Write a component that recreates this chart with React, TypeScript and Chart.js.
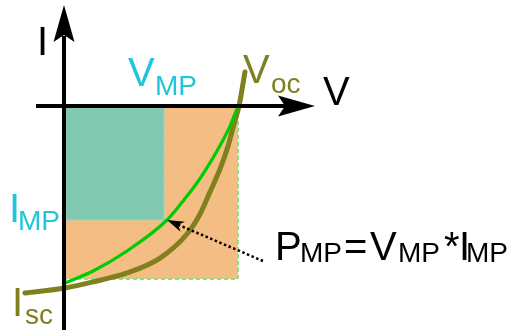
import React, { useEffect, useRef } from "react";
import { Chart, registerables } from "chart.js";

Chart.register(...registerables);

// Normalised units: V / V_oc along x, I / |I_rect| along y (downward = negative)
const ivCurveV = [-0.224, 0.006, 0.167, 0.362, 0.552, 0.707, 0.782, 0.839, 0.897, 0.943, 0.977, 1.006, 1.04];
const ivCurveI = [-1.081, -1.052, -1.017, -0.965, -0.879, -0.74, -0.624, -0.497, -0.364, -0.231, -0.104, 0, 0.197];

const mpCurveV = [0.006, 0.167, 0.362, 0.592, 0.684, 0.764, 0.839, 0.908, 0.954, 1.0];
const mpCurveI = [-1.023, -0.954, -0.838, -0.659, -0.549, -0.445, -0.329, -0.208, -0.116, 0];

const vMP = 0.575;
const iMP = -0.659;
const vOC = 1.0;
const iRect = -1.0;

const X_MIN = -0.3678;
const X_MAX = 2.5575;
const Y_MIN = -1.2948;
const Y_MAX = 0.6127;

const TEAL_TEXT = "#1fc6da";
const OLIVE = "#808020";
const GREEN = "#00cc00";
const FONT = '"Liberation Sans", Arial, sans-serif';

function rectPts(x0: number, y0: number, x1: number, y1: number) {
  return [
    { x: x0, y: y0 },
    { x: x1, y: y0 },
    { x: x1, y: y1 },
    { x: x0, y: y1 },
    { x: x0, y: y0 },
  ];
}

function drawLeft(ctx: CanvasRenderingContext2D, text: string, left: number, baseline: number, size: number, color: string) {
  ctx.font = `${size}px ${FONT}`;
  ctx.fillStyle = color;
  ctx.textAlign = "left";
  ctx.textBaseline = "alphabetic";
  const m = ctx.measureText(text);
  ctx.fillText(text, left + m.actualBoundingBoxLeft, baseline);
}

function arrowHead(ctx: CanvasRenderingContext2D, tx: number, ty: number, ang: number, len: number, half: number, notch: number) {
  ctx.save();
  ctx.translate(tx, ty);
  ctx.rotate(ang);
  ctx.beginPath();
  ctx.moveTo(0, 0);
  ctx.lineTo(-len, -half);
  ctx.lineTo(-notch, 0);
  ctx.lineTo(-len, half);
  ctx.closePath();
  ctx.fill();
  ctx.restore();
}

const overlayPlugin = {
  id: "overlay",
  afterDatasetsDraw(chart: any) {
    const ctx: CanvasRenderingContext2D = chart.ctx;
    const xs = chart.scales.x;
    const ys = chart.scales.y;
    const ox = xs.getPixelForValue(0);
    const oy = ys.getPixelForValue(0);
    ctx.save();
    ctx.fillStyle = "#000";
    ctx.strokeStyle = "#000";
    ctx.lineWidth = 4;
    ctx.setLineDash([]);
    // vertical axis
    ctx.beginPath();
    ctx.moveTo(ox, chart.height);
    ctx.lineTo(ox, 36);
    ctx.stroke();
    arrowHead(ctx, ox, 5, -Math.PI / 2, 37, 10.5, 30);
    // horizontal axis
    ctx.beginPath();
    ctx.moveTo(36, oy);
    ctx.lineTo(286, oy);
    ctx.stroke();
    arrowHead(ctx, 315, oy, 0, 37, 10.5, 30);

    // dotted pointer to maximum power point
    const tx = xs.getPixelForValue(vMP) + 3;
    const ty = ys.getPixelForValue(iMP);
    const sx = 263;
    const sy = 261;
    const ang = Math.atan2(ty - sy, tx - sx);
    ctx.lineWidth = 2.5;
    ctx.setLineDash([2.5, 2.5]);
    ctx.beginPath();
    ctx.moveTo(sx, sy);
    ctx.lineTo(tx - 10 * Math.cos(ang), ty - 10 * Math.sin(ang));
    ctx.stroke();
    ctx.setLineDash([]);
    arrowHead(ctx, tx, ty, ang, 17, 5.5, 12);

    // labels
    drawLeft(ctx, "I", 40, 55, 40, "#000");
    drawLeft(ctx, "V", 323, 105, 40, "#000");
    drawLeft(ctx, "V", 128, 86, 40, TEAL_TEXT);
    drawLeft(ctx, "MP", 157, 95, 28, TEAL_TEXT);
    drawLeft(ctx, "V", 243, 83, 40, OLIVE);
    drawLeft(ctx, "oc", 272, 93, 28, OLIVE);
    drawLeft(ctx, "I", 12, 222, 40, TEAL_TEXT);
    drawLeft(ctx, "MP", 20, 230, 28, TEAL_TEXT);
    drawLeft(ctx, "I", 15, 316, 40, OLIVE);
    drawLeft(ctx, "sc", 25, 324, 28, OLIVE);

    drawLeft(ctx, "P", 278, 260, 40, "#000");
    drawLeft(ctx, "MP", 302, 262, 28, "#000");
    drawLeft(ctx, "=", 345, 260, 40, "#000");
    drawLeft(ctx, "V", 370, 260, 40, "#000");
    drawLeft(ctx, "MP", 400, 262, 28, "#000");
    drawLeft(ctx, "*", 444, 260, 40, "#000");
    drawLeft(ctx, "I", 462, 260, 40, "#000");
    drawLeft(ctx, "MP", 468, 262, 28, "#000");
    ctx.restore();
  },
};

export default function App() {
  const ref = useRef<HTMLCanvasElement | null>(null);
  useEffect(() => {
    if (!ref.current) return;
    const chart = new Chart(ref.current, {
      type: "line",
      data: {
        datasets: [
          {
            label: "P curve",
            data: mpCurveV.map((v, i) => ({ x: v, y: mpCurveI[i] })),
            borderColor: GREEN,
            borderWidth: 3.2,
            pointRadius: 0,
            fill: false,
            cubicInterpolationMode: "monotone",
            borderCapStyle: "round",
            order: 0,
          },
          {
            label: "IV curve",
            data: ivCurveV.map((v, i) => ({ x: v, y: ivCurveI[i] })),
            borderColor: OLIVE,
            borderWidth: 5,
            pointRadius: 0,
            fill: false,
            cubicInterpolationMode: "monotone",
            borderCapStyle: "round",
            order: 1,
          },
          {
            label: "Pmp area",
            data: rectPts(0, 0, vMP, iMP),
            borderColor: "#9ad8c2",
            backgroundColor: "#80c8b0",
            borderWidth: 1.5,
            borderDash: [3, 2],
            pointRadius: 0,
            tension: 0,
            fill: "shape",
            order: 2,
          },
          {
            label: "Voc*Isc area",
            data: rectPts(0, 0, vOC, iRect),
            borderColor: "#86e486",
            backgroundColor: "#f4bd84",
            borderWidth: 2,
            borderDash: [4, 3],
            pointRadius: 0,
            tension: 0,
            fill: "shape",
            order: 3,
          },
        ],
      },
      options: {
        animation: false,
        responsive: false,
        maintainAspectRatio: false,
        layout: { padding: 0 },
        plugins: { legend: { display: false }, tooltip: { enabled: false } },
        scales: {
          x: { type: "linear", display: false, min: X_MIN, max: X_MAX },
          y: { type: "linear", display: false, min: Y_MIN, max: Y_MAX },
        },
      },
      plugins: [overlayPlugin],
    } as any);
    return () => chart.destroy();
  }, []);
  return (
    <div style={{ position: "absolute", left: 0, top: 0, width: 509, height: 330, background: "#fff" }}>
      <canvas ref={ref} width={509} height={330} style={{ display: "block" }} />
    </div>
  );
}
